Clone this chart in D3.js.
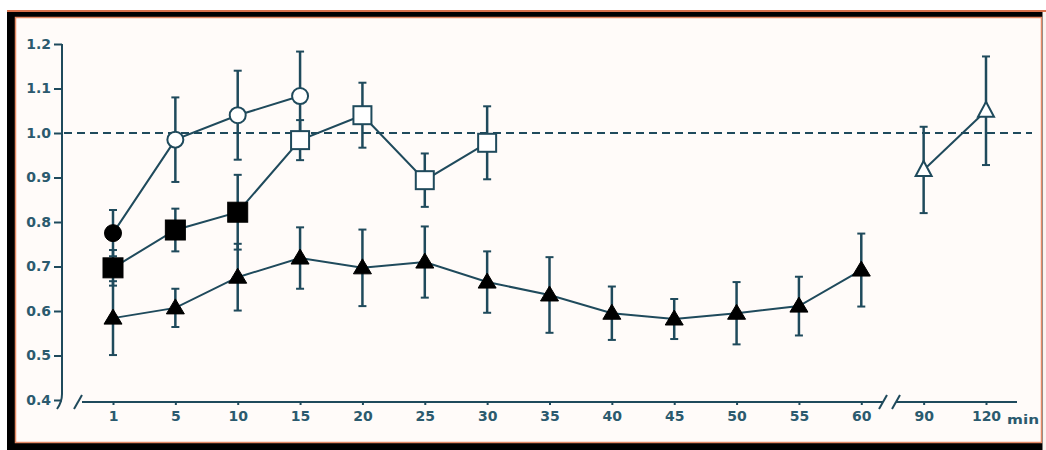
<!DOCTYPE html>
<html>
<head>
<meta charset="utf-8">
<script src="https://cdn.jsdelivr.net/npm/d3@7"></script>
<style>
  body { margin: 0; background: #fff; }
  svg { display: block; }
  text { font-family: "DejaVu Sans", "Liberation Sans", Arial, sans-serif; }
</style>
</head>
<body>
<svg width="1046" height="450"></svg>
<script>
// x categories (minutes), axis is broken between 60 and 90
var xLabels = ["1","5","10","15","20","25","30","35","40","45","50","55","60","90","120"];
var yTicks = [0.4,0.5,0.6,0.7,0.8,0.9,1.0,1.1,1.2];

// circles
var circleX = ["1","5","10","15"];
var circleY = [0.775, 0.985, 1.04, 1.083];
var circleE = [0.052, 0.095, 0.1, 0.1];
var circleFilled = [1,0,0,0];

// squares
var squareX = ["1","5","10","15","20","25","30"];
var squareY = [0.697, 0.782, 0.822, 0.984, 1.04, 0.894, 0.978];
var squareE = [0.04, 0.048, 0.084, 0.045, 0.073, 0.06, 0.082];
var squareFilled = [1,1,1,0,0,0,0];

// filled triangles
var triX = ["1","5","10","15","20","25","30","35","40","45","50","55","60"];
var triY = [0.584, 0.607, 0.676, 0.719, 0.697, 0.71, 0.665, 0.636, 0.595, 0.582, 0.595, 0.611, 0.692];
var triE = [0.083, 0.043, 0.075, 0.069, 0.086, 0.08, 0.069, 0.085, 0.06, 0.045, 0.07, 0.066, 0.082];

// open triangles after the break
var openTriX = ["90","120"];
var openTriY = [0.917, 1.05];
var openTriE = [0.097, 0.122];

var ink = "#1f4a5c";
var txt = "#2b5a6e";
var svg = d3.select("svg");

// frame
svg.append("rect").attr("x",7).attr("y",11).attr("width",1039).attr("height",439).style("fill","#000");
svg.append("line").attr("x1",7).attr("x2",1046).attr("y1",11).attr("y2",11).style("stroke","#d9704a").style("stroke-width",2);
svg.append("rect").attr("x",15.5).attr("y",17.5).attr("width",1026).attr("height",425)
    .style("fill","#fffbf9").style("stroke","#e58a66").style("stroke-width",1.5);
svg.append("rect").attr("x",1042.5).attr("y",12).attr("width",4).attr("height",438).style("fill","#fbf3f0");

var x = d3.scalePoint().domain(xLabels).range([113, 986]);
var y = d3.scaleLinear().domain([0.4, 1.2]).range([400, 44]);

// y axis
var yAxis = svg.append("g").attr("transform","translate(62,0)")
    .call(d3.axisLeft(y).tickValues(yTicks).tickFormat(d3.format(".1f")).tickSize(8).tickSizeOuter(0));
yAxis.select(".domain").remove();
yAxis.selectAll("line").style("stroke",ink).style("stroke-width",2);
yAxis.selectAll("text").style("fill",txt).style("font-size","14px").style("font-weight","bold").attr("x",-11);
svg.append("path").attr("d","M62,44 V394 Q62,402 57,409").style("fill","none").style("stroke",ink).style("stroke-width",2);

// x axis with breaks
var x0 = 402;
svg.append("line").attr("x1",82).attr("x2",883).attr("y1",x0).attr("y2",x0).style("stroke",ink).style("stroke-width",2);
svg.append("line").attr("x1",896).attr("x2",1017).attr("y1",x0).attr("y2",x0).style("stroke",ink).style("stroke-width",2);
[78, 883, 896].forEach(function(bx) {
    svg.append("line").attr("x1",bx-4).attr("x2",bx+4).attr("y1",x0+7).attr("y2",x0-7)
        .style("stroke",ink).style("stroke-width",2);
});
var xAxis = svg.append("g").attr("transform","translate(0," + x0 + ")")
    .call(d3.axisBottom(x).tickSize(3).tickPadding(6));
xAxis.select(".domain").remove();
xAxis.selectAll("line").style("stroke",ink).style("stroke-width",2);
xAxis.selectAll("text").style("fill",txt).style("font-size","14px").style("font-weight","bold");
svg.append("text").attr("x",1007).attr("y",x0+22).text("min")
    .attr("textLength",32).attr("lengthAdjust","spacingAndGlyphs")
    .style("fill",txt).style("font-size","13px").style("font-weight","bold");

// reference line at 1.0
svg.append("line").attr("x1",64).attr("x2",1032).attr("y1",y(1.0)).attr("y2",y(1.0))
    .style("stroke",ink).style("stroke-width",2).style("stroke-dasharray","8,5");

function rows(xs, ys, es, fs) {
    return xs.map(function(k, i) { return { k: k, v: ys[i], e: es[i], f: fs ? fs[i] : 0 }; });
}
var series = [
    { shape: "tri", data: rows(triX, triY, triE, triX.map(function() { return 1; })) },
    { shape: "square", data: rows(squareX, squareY, squareE, squareFilled) },
    { shape: "circle", data: rows(circleX, circleY, circleE, circleFilled) },
    { shape: "tri", data: rows(openTriX, openTriY, openTriE, null) }
];

var line = d3.line().x(function(d) { return x(d.k); }).y(function(d) { return y(d.v); });

series.forEach(function(s) {
    svg.append("path").datum(s.data).attr("d", line)
        .style("fill","none").style("stroke",ink).style("stroke-width",2);
});

series.forEach(function(s) {
    var g = svg.append("g");
    var eb = g.selectAll("g.eb").data(s.data).enter().append("g");
    eb.append("line")
        .attr("x1", function(d) { return x(d.k); }).attr("x2", function(d) { return x(d.k); })
        .attr("y1", function(d) { return y(d.v - d.e); }).attr("y2", function(d) { return y(d.v + d.e); })
        .style("stroke",ink).style("stroke-width",2.5);
    [-1, 1].forEach(function(sg) {
        eb.append("line")
            .attr("x1", function(d) { return x(d.k) - 4; }).attr("x2", function(d) { return x(d.k) + 4; })
            .attr("y1", function(d) { return y(d.v + sg * d.e); }).attr("y2", function(d) { return y(d.v + sg * d.e); })
            .style("stroke",ink).style("stroke-width",2);
    });
});

series.forEach(function(s) {
    var g = svg.append("g");
    var m;
    if (s.shape === "circle") {
        m = g.selectAll("circle").data(s.data).enter().append("circle")
            .attr("cx", function(d) { return x(d.k); }).attr("cy", function(d) { return y(d.v); })
            .attr("r", function(d) { return d.f ? 8.5 : 8; });
    } else if (s.shape === "square") {
        m = g.selectAll("rect").data(s.data).enter().append("rect")
            .attr("x", function(d) { return x(d.k) - (d.f ? 10 : 9); })
            .attr("y", function(d) { return y(d.v) - (d.f ? 10 : 9); })
            .attr("width", function(d) { return d.f ? 20 : 18; })
            .attr("height", function(d) { return d.f ? 20 : 18; });
    } else {
        m = g.selectAll("path").data(s.data).enter().append("path")
            .attr("d", function(d) {
                var cx = x(d.k), cy = y(d.v);
                var w = d.f ? 9 : 8;
                return "M" + cx + "," + (cy - 9) + "L" + (cx + w) + "," + (cy + 6) + "L" + (cx - w) + "," + (cy + 6) + "Z";
            });
    }
    m.style("fill", function(d) { return d.f ? "#000" : "#fff"; })
        .style("stroke", function(d) { return d.f ? "#000" : ink; })
        .style("stroke-width", function(d) { return d.f ? 1 : 2; });
});
</script>
</body>
</html>
